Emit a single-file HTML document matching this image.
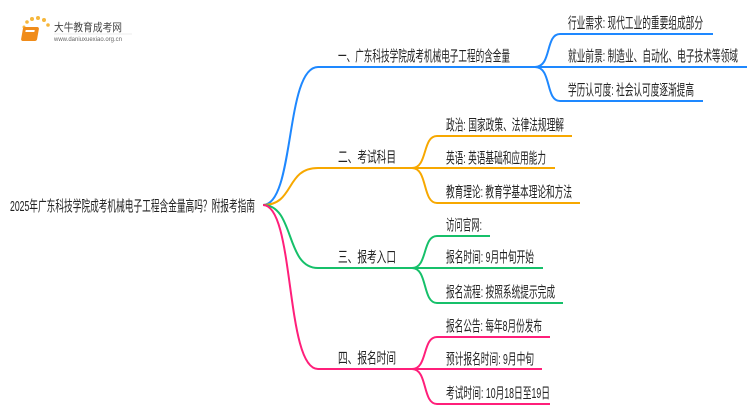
<!DOCTYPE html>
<html><head><meta charset="utf-8"><style>
html,body{margin:0;padding:0;background:#fff;width:750px;height:410px;overflow:hidden}
text{font-family:"Liberation Sans","Noto Sans CJK SC",sans-serif;fill:#222;font-size:15px}
</style></head><body>
<svg width="750" height="410" viewBox="0 0 750 410" xmlns="http://www.w3.org/2000/svg">
<g>
<circle cx="24" cy="27" r="1.5" fill="#f6b73c"/><circle cx="27" cy="22" r="1.8" fill="#f6b73c"/><circle cx="32" cy="19" r="2" fill="#f6b73c"/><circle cx="38" cy="18" r="2" fill="#f6b73c"/><circle cx="44" cy="20" r="2" fill="#f6b73c"/><circle cx="48" cy="25" r="1.8" fill="#f6b73c"/>
<rect x="28" y="27" width="16" height="14" rx="2" fill="#f08c1a" transform="skewX(-10)"/>
<rect x="31" y="30" width="9" height="2" fill="#fff" transform="skewX(-10)"/>
<text x="54" y="31" style="font-size:11px;fill:#444" textLength="68" lengthAdjust="spacingAndGlyphs">大牛教育成考网</text>
<text x="54" y="41" style="font-size:6px;fill:#666" textLength="68" lengthAdjust="spacingAndGlyphs">www.daniuxuexiao.org.cn</text>
<line x1="54" y1="34" x2="132" y2="34" stroke="#ddd" stroke-width="0.6"/>
</g>
<text x="10" y="211" textLength="245" lengthAdjust="spacingAndGlyphs">2025年广东科技学院成考机械电子工程含金量高吗？附报考指南</text>
<g fill="none" stroke-width="2">
<path d="M263,205 C295,205 285,67 318,67 L535,67" stroke="#1e88ff"/>
<path d="M263,205 C295,205 285,168 318,168 L412,168" stroke="#f7a800"/>
<path d="M263,205 C295,205 285,268 318,268 L412,268" stroke="#16c06a"/>
<path d="M263,205 C295,205 285,369 318,369 L412,369" stroke="#ff1f7a"/>
<path d="M535,67 C552,67 545,34 560,34 L713,34" stroke="#1e88ff"/>
<path d="M535,67 L747,67" stroke="#1e88ff"/>
<path d="M535,67 C552,67 545,101 560,101 L703,101" stroke="#1e88ff"/>
<path d="M412,168 C428,168 422,136 437,136 L572,136" stroke="#f7a800"/>
<path d="M412,168 L555,168" stroke="#f7a800"/>
<path d="M412,168 C428,168 422,203 437,203 L580,203" stroke="#f7a800"/>
<path d="M412,268 C428,268 422,236 437,236 L490,236" stroke="#16c06a"/>
<path d="M412,268 L543,268" stroke="#16c06a"/>
<path d="M412,268 C428,268 422,303 437,303 L563,303" stroke="#16c06a"/>
<path d="M412,369 C428,369 422,337 437,337 L550,337" stroke="#ff1f7a"/>
<path d="M412,369 L542,369" stroke="#ff1f7a"/>
<path d="M412,369 C428,369 422,404 437,404 L550,404" stroke="#ff1f7a"/>
</g>
<text x="338" y="61" textLength="172" lengthAdjust="spacingAndGlyphs">一、广东科技学院成考机械电子工程的含金量</text>
<text x="338" y="162" textLength="58" lengthAdjust="spacingAndGlyphs">二、考试科目</text>
<text x="338" y="262" textLength="58" lengthAdjust="spacingAndGlyphs">三、报考入口</text>
<text x="338" y="363" textLength="58" lengthAdjust="spacingAndGlyphs">四、报名时间</text>
<text x="568" y="28" textLength="135" lengthAdjust="spacingAndGlyphs">行业需求: 现代工业的重要组成部分</text>
<text x="568" y="61" textLength="170" lengthAdjust="spacingAndGlyphs">就业前景: 制造业、自动化、电子技术等领域</text>
<text x="568" y="95" textLength="126" lengthAdjust="spacingAndGlyphs">学历认可度: 社会认可度逐渐提高</text>
<text x="446" y="130" textLength="118" lengthAdjust="spacingAndGlyphs">政治: 国家政策、法律法规理解</text>
<text x="446" y="163" textLength="100" lengthAdjust="spacingAndGlyphs">英语: 英语基础和应用能力</text>
<text x="446" y="197" textLength="126" lengthAdjust="spacingAndGlyphs">教育理论: 教育学基本理论和方法</text>
<text x="446" y="230" textLength="36" lengthAdjust="spacingAndGlyphs">访问官网:</text>
<text x="446" y="262" textLength="88" lengthAdjust="spacingAndGlyphs">报名时间: 9月中旬开始</text>
<text x="446" y="297" textLength="109" lengthAdjust="spacingAndGlyphs">报名流程: 按照系统提示完成</text>
<text x="446" y="331" textLength="96" lengthAdjust="spacingAndGlyphs">报名公告: 每年8月份发布</text>
<text x="446" y="364" textLength="88" lengthAdjust="spacingAndGlyphs">预计报名时间: 9月中旬</text>
<text x="446" y="398" textLength="104" lengthAdjust="spacingAndGlyphs">考试时间: 10月18日至19日</text>
</svg>
</body></html>
